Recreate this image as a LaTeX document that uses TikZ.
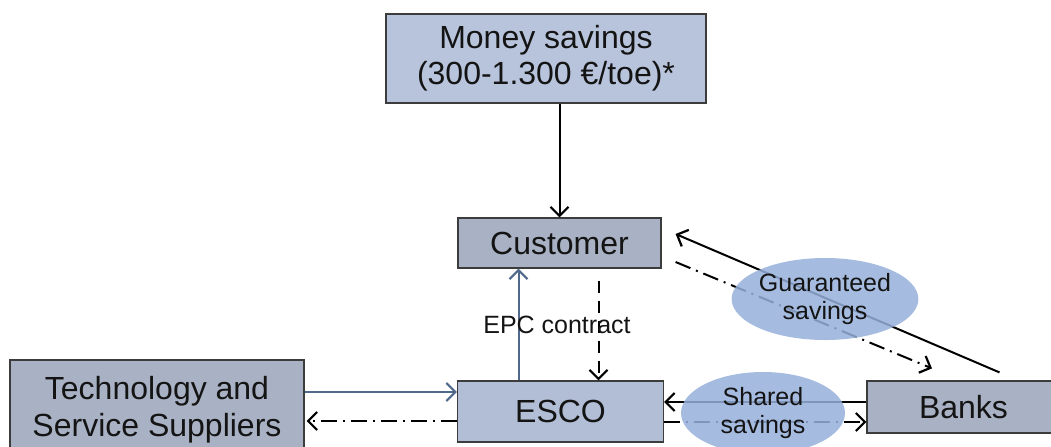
\documentclass[tikz,border=0pt]{standalone}
\usepackage{fontspec}
\setmainfont{Liberation Sans}
\usetikzlibrary{arrows.meta,shapes.geometric}
\definecolor{boxlight}{RGB}{184,196,220}
\definecolor{boxgrey}{RGB}{169,178,196}
\definecolor{boxesco}{RGB}{178,190,214}
\definecolor{bordercol}{RGB}{60,60,60}
\definecolor{txtcol}{RGB}{20,20,20}
\definecolor{bluearrow}{RGB}{80,104,140}
\definecolor{ellfill}{RGB}{150,176,218}
\tikzset{
  boxnode/.style={draw=bordercol, line width=0.6pt, text=txtcol, align=center,
    font=\fontsize{16}{18}\selectfont, inner sep=0pt},
  ellnode/.style={ellipse, fill=ellfill, fill opacity=0.85, text opacity=1, text=txtcol,
    align=center, font=\fontsize{12.5}{14}\selectfont, inner sep=0pt,
    minimum width=82pt, minimum height=41pt},
  conn/.style={line width=1pt, -{Straight Barb[length=4.5pt,width=9pt,line width=1.1pt]}},
  dashdot/.style={dash pattern=on 8pt off 3pt on 1pt off 3pt},
}
\begin{document}
\begin{tikzpicture}[x=0.5pt,y=-0.5pt]
\clip (0,0) rectangle (1051,446);
\fill[white] (0,0) rectangle (1051,446);
% boxes
\node[boxnode, fill=boxlight, minimum width=160pt, minimum height=44.5pt] (money) at (546,58.5) {Money savings\\(300-1.300 €/toe)*};
\node[boxnode, fill=boxgrey, minimum width=101.5pt, minimum height=25pt] (cust) at (559.5,243) {Customer};
\node[boxnode, fill=boxesco, minimum width=103pt, minimum height=30.5pt] (esco) at (560.5,411.5) {ESCO};
\node[boxnode, fill=boxgrey, minimum width=147pt, minimum height=50pt, font=\fontsize{16}{18.5}\selectfont] (tech) at (157,410) {Technology and\\Service Suppliers};
\node[boxnode, fill=boxgrey, minimum width=96.5pt, minimum height=26pt] (banks) at (963.5,407) {Banks};
% connectors
\draw[conn] (money.south -| cust.north) -- (cust.north);
\draw[conn, color=bluearrow] ([xshift=-21pt]esco.north) -- ([xshift=-21pt]esco.north |- cust.south);
\draw[conn, dash pattern=on 6pt off 4pt] ([xshift=19.5pt,yshift=-6pt]cust.south) -- ([xshift=19.5pt]cust.south |- esco.north);
\node[font=\fontsize{12.5}{14}\selectfont, text=txtcol] (epc) at (557,325) {EPC contract};
\draw[conn, color=bluearrow] ([yshift=9pt]tech.east) -- ([yshift=9pt]tech.east -| esco.west);
\draw[conn, dashdot] ([yshift=-4.75pt]esco.west) -- ([yshift=-4.75pt,xshift=1pt]esco.west -| tech.east);
\draw[conn] ([yshift=2.5pt]banks.west) -- ([yshift=2.5pt]banks.west -| esco.east);
\draw[conn, dashdot] ([yshift=-7.5pt]banks.west -| esco.east) -- ([yshift=-7.5pt]banks.west);
\draw[conn] ([xshift=18pt,yshift=4pt]banks.north) -- ([xshift=7pt,yshift=4.5pt]cust.east);
\draw[conn, dashdot] ([xshift=7pt,yshift=-9.5pt]cust.east) -- ([xshift=-15.75pt,yshift=6pt]banks.north);
% ellipses
\node[ellnode] (guar) at (825,299) {Guaranteed\\savings};
\node[ellnode] (shared) at (763,413) {Shared\\savings};
\end{tikzpicture}
\end{document}
